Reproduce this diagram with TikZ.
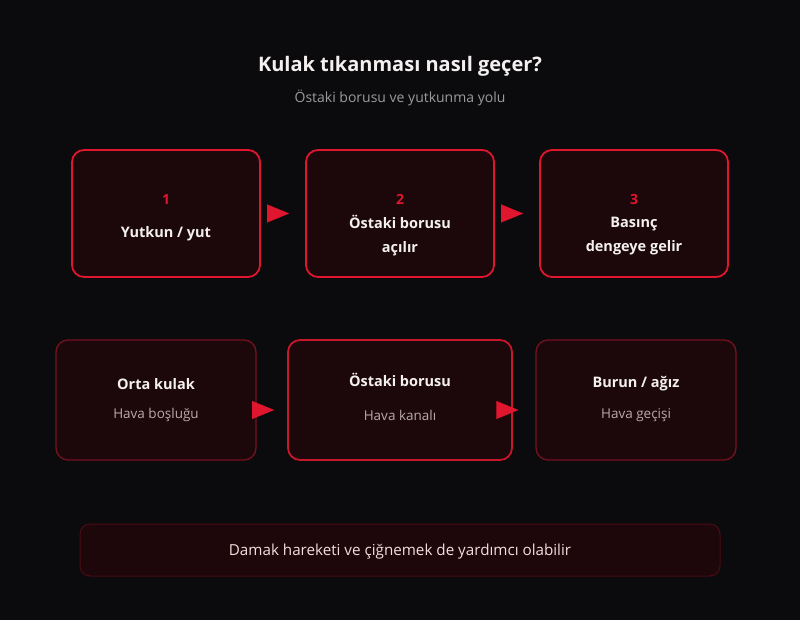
\documentclass[tikz,border=0pt]{standalone}
\usepackage{fontspec}
\setmainfont{Open Sans}
\usetikzlibrary{arrows.meta}

\definecolor{bgc}{HTML}{0B0A0C}
\definecolor{boxfill}{HTML}{1C070A}
\definecolor{redline}{HTML}{E0152E}
\definecolor{darkline}{HTML}{741220}
\definecolor{midline}{HTML}{C8172B}
\definecolor{bandline}{HTML}{4A0C14}
\definecolor{bandfill}{HTML}{1D070B}
\definecolor{titlec}{HTML}{F4F0F0}
\definecolor{subc}{HTML}{9C9A9C}
\definecolor{softc}{HTML}{B8AAAC}

\begin{document}
\begin{tikzpicture}[x=1pt, y=-1pt,
    stepbox/.style={rectangle, rounded corners=12pt, draw=redline, line width=1.8pt, fill=boxfill, minimum width=188pt, minimum height=127pt},
    partbox/.style={rectangle, rounded corners=12pt, draw=darkline, line width=1.3pt, fill=boxfill, minimum width=200pt, minimum height=120pt},
    num/.style={inner sep=0pt, text=redline, font=\fontsize{14}{16}\selectfont\bfseries},
    head/.style={inner sep=0pt, text=titlec, align=center, font=\fontsize{14.5}{24}\selectfont\bfseries},
    soft/.style={inner sep=0pt, text=softc, font=\fontsize{13.5}{16}\selectfont},
    flow/.style={draw=bgc, line width=0.1pt, -{Triangle[length=22pt, width=18pt, color=redline]}}]
  \fill[bgc] (0,0) rectangle (800,620);
  \useasboundingbox (0,0) rectangle (800,620);

  % title
  \node[inner sep=0pt, text=titlec, font=\fontsize{20}{24}\selectfont\bfseries] (title) at (400,66) {Kulak tıkanması nasıl geçer?};
  \node[inner sep=0pt, text=subc, font=\fontsize{14}{16}\selectfont] (subtitle) at (400,98) {Östaki borusu ve yutkunma yolu};

  % steps
  \node[stepbox] (s1) at (166,213.5) {};
  \node[stepbox] (s2) at (400,213.5) {};
  \node[stepbox] (s3) at (634,213.5) {};
  \node[num] (n1) at (166,199.5) {1};
  \node[num] (n2) at (400,199.5) {2};
  \node[num] (n3) at (634,199.5) {3};
  \node[head] (t1) at (166,233.5) {Yutkun / yut};
  \node[head] (t2) at (400,236) {Östaki borusu\\açılır};
  \node[head] (t3) at (634,236) {Basınç\\dengeye gelir};
  \draw[flow, shorten >=16pt] (s1.east) -- (s2.west);
  \draw[flow, shorten >=16pt] (s2.east) -- (s3.west);

  % parts
  \node[partbox] (p1) at (156,400) {};
  \node[partbox, draw=midline, line width=1.8pt, minimum width=224pt] (p2) at (400,400) {};
  \node[partbox] (p3) at (636,400) {};
  \node[head] (h1) at (156,384) {Orta kulak};
  \node[head] (h2) at (400,380) {Östaki borusu};
  \node[head] (h3) at (636,384) {Burun / ağız};
  \node[soft] (d1) at (156,415) {Hava boşluğu};
  \node[soft] (d2) at (400,415) {Hava kanalı};
  \node[soft] (d3) at (636,415) {Hava geçişi};
  \draw[flow, shorten >=13pt] ([yshift=-10pt]p1.east) -- ([yshift=-10pt]p2.west);
  \draw[flow, shorten >=17pt] ([yshift=-10pt]p2.east) -- ([yshift=-10pt]p3.west);

  % note
  \node[rectangle, rounded corners=10pt, draw=bandline, line width=1pt, fill=bandfill, minimum width=640pt, minimum height=52pt] (note) at (400,550) {};
  \node[inner sep=0pt, text=titlec!92!red, font=\fontsize{15.2}{18}\selectfont] (notetext) at (400,551.5) {Damak hareketi ve çiğnemek de yardımcı olabilir};
\end{tikzpicture}
\end{document}
